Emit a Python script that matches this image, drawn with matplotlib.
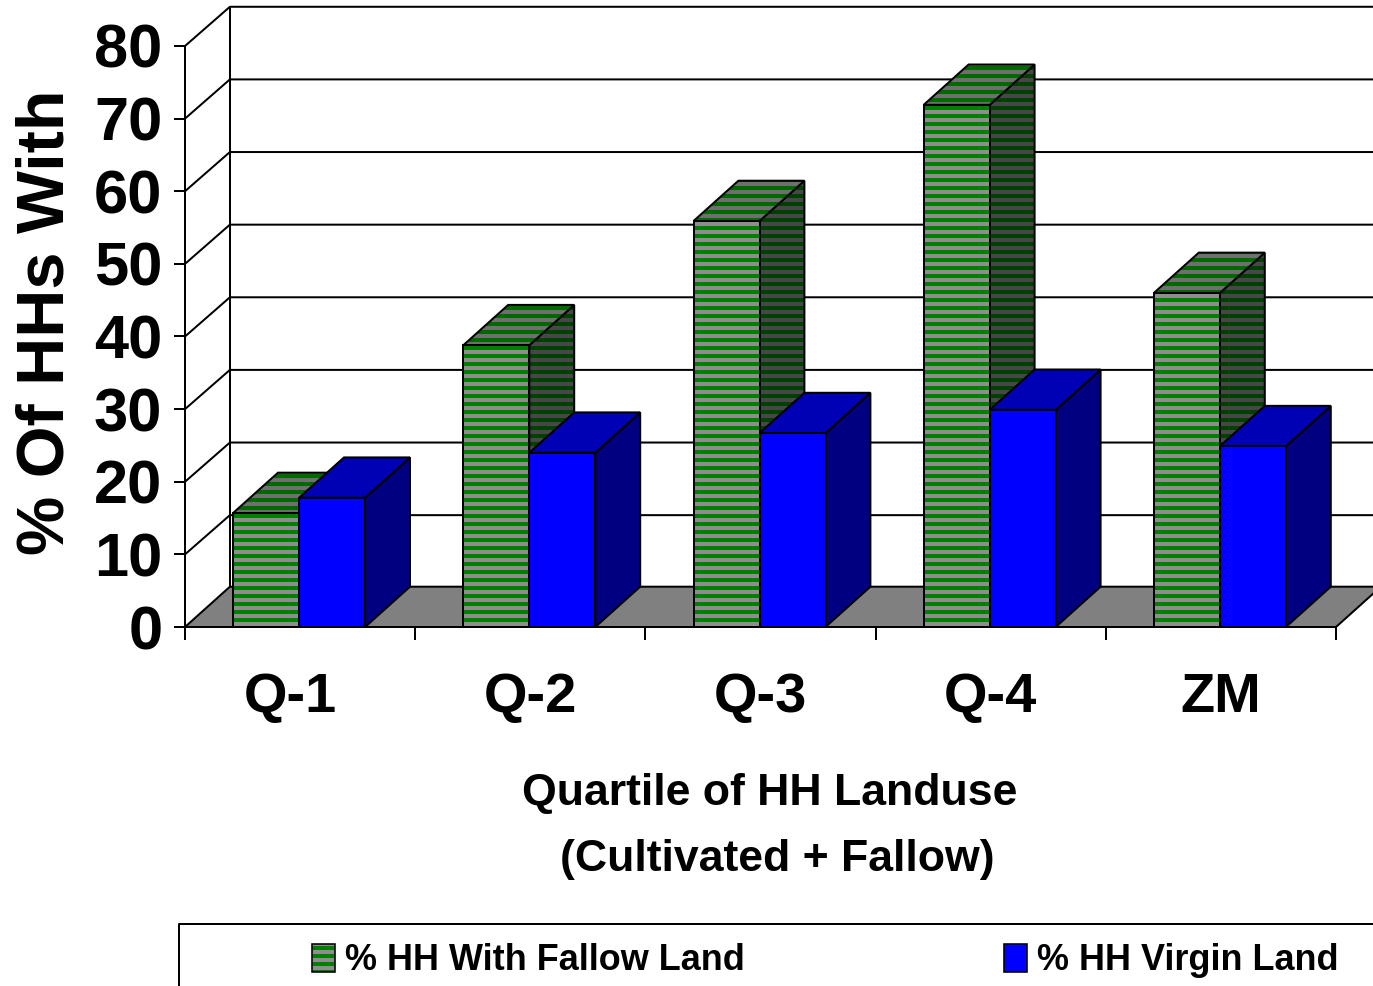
import numpy as np
import matplotlib
matplotlib.use('Agg')
import matplotlib.pyplot as plt
from matplotlib.patches import Polygon, Rectangle
from matplotlib.lines import Line2D

categories = ['Q-1', 'Q-2', 'Q-3', 'Q-4', 'ZM']
fallow = [15.7, 38.8, 55.9, 71.9, 46.0]
virgin = [17.8, 24.0, 26.7, 29.9, 24.9]
y_ticks = [0, 10, 20, 30, 40, 50, 60, 70, 80]

W, H = 1373, 986
DPI = 96
plt.rcParams['font.family'] = ['Liberation Sans', 'DejaVu Sans']
plt.rcParams['font.weight'] = 'bold'
plt.rcParams['hatch.linewidth'] = 3.0

# 3d look, depth in data units
dx = 0.195
dy = 5.55
wall_dy = 5.4
bar_w = 0.2867
left = 0.209


def face(ax, pts, fc, hatch_col=None, z=3):
    if hatch_col is None:
        ax.add_patch(Polygon(pts, closed=True, fc=fc, ec='black', lw=1.5, clip_on=False, zorder=z))
    else:
        ax.add_patch(Polygon(pts, closed=True, fc=fc, ec=hatch_col, hatch='--', lw=0, clip_on=False, zorder=z))
        ax.add_patch(Polygon(pts, closed=True, fc='none', ec='black', lw=1.5, clip_on=False, zorder=z))


def draw_bar(ax, x, val, colors, z):
    # colors: (front, top, side), each a fill or a (fill, stripe) pair
    front = [(x, 0), (x + bar_w, 0), (x + bar_w, val), (x, val)]
    top = [(x, val), (x + bar_w, val), (x + bar_w + dx, val + dy), (x + dx, val + dy)]
    side = [(x + bar_w, 0), (x + bar_w + dx, dy), (x + bar_w + dx, val + dy), (x + bar_w, val)]
    for pts, c in zip((side, top, front), (colors[2], colors[1], colors[0])):
        if isinstance(c, tuple):
            face(ax, pts, c[0], c[1], z)
        else:
            face(ax, pts, c, None, z)


fig = plt.figure(figsize=(W / DPI, H / DPI), dpi=DPI)
ax = fig.add_axes([185 / W, (H - 627) / H, 1151 / W, 581 / H])
ax.set_xlim(0, 5)
ax.set_ylim(0, 80)
ax.patch.set_visible(False)

# floor
ax.add_patch(Polygon([(0, 0), (dx, dy), (5 + dx, dy), (5, 0)], closed=True, fc='#808080', ec='black',
                     lw=1.5, clip_on=False, zorder=1))
# walls
ax.plot([dx, dx], [dy, 80 + wall_dy], color='black', lw=1.5, clip_on=False, zorder=1)
for t in y_ticks[1:]:
    ax.plot([0, dx, 5 + dx], [t, t + wall_dy, t + wall_dy], color='black', lw=1.5, clip_on=False, zorder=1)

green_front = ('#8e8e8e', '#008000')
green_top = ('#6f6f6f', '#006a00')
green_side = ('#474747', '#004000')
blue_colors = ('#0000ff', '#0000b4', '#000080')

for i in range(len(categories)):
    draw_bar(ax, i + left, fallow[i], (green_front, green_top, green_side), 3 + i * 2)
    draw_bar(ax, i + left + bar_w, virgin[i], blue_colors, 4 + i * 2)

for s in ('top', 'right'):
    ax.spines[s].set_visible(False)
for s in ('left', 'bottom'):
    ax.spines[s].set_linewidth(1.5)
    ax.spines[s].set_zorder(20)

ax.set_yticks(y_ticks)
ax.set_xticks(range(len(categories) + 1))
ax.set_xticklabels([])
ax.tick_params(axis='y', length=8, width=1.5, pad=9, labelsize=46)
ax.tick_params(axis='x', which='major', length=10, width=1.5)

# Q-1 sits a bit left of its slot in the original
for i, cat in enumerate(categories):
    off = -7.5 if i == 0 else 0
    ax.annotate(cat, (i + 0.5, 0), xytext=(off, -53), textcoords='offset points',
                ha='center', va='center', fontsize=42, annotation_clip=False)

fig.text(770 / W, 1 - 793 / H, 'Quartile of HH Landuse', ha='center', va='center', fontsize=33.5)
fig.text(777 / W, 1 - 859 / H, '(Cultivated + Fallow)', ha='center', va='center', fontsize=33.5)
fig.text(47 / W, 1 - 322 / H, '% Of HHs With', rotation=90, ha='center', va='center', fontsize=50)

# legend box, runs off the right and bottom edge
fig.add_artist(Line2D([179 / W, 179 / W, 1], [0, 1 - 924 / H, 1 - 924 / H], color='black', lw=1.5))
fig.add_artist(Rectangle((312 / W, 1 - 972 / H), 23 / W, 28 / H, transform=fig.transFigure,
                         fc=green_front[0], ec=green_front[1], hatch='--', lw=0))
fig.add_artist(Rectangle((312 / W, 1 - 972 / H), 23 / W, 28 / H, transform=fig.transFigure,
                         fc='none', ec='black', lw=1.2))
fig.add_artist(Rectangle((1004 / W, 1 - 972 / H), 23 / W, 28 / H, transform=fig.transFigure,
                         fc='#0000ff', ec='black', lw=1.2))
fig.text(345 / W, 1 - 961 / H, '% HH With Fallow Land', ha='left', va='center', fontsize=27)
fig.text(1037 / W, 1 - 961 / H, '% HH Virgin Land', ha='left', va='center', fontsize=27)

fig.savefig('out.png', dpi=DPI)
